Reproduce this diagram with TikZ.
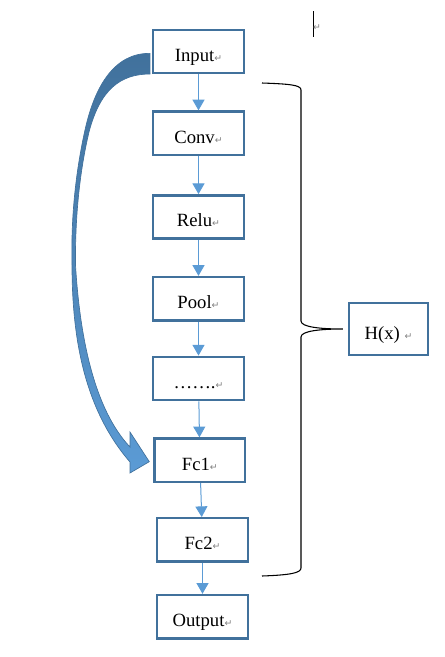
\documentclass[tikz,border=0pt]{standalone}
\usepackage{fontspec}
\setmainfont{Liberation Serif}
\newfontfamily\symfont{DejaVu Sans}
\usetikzlibrary{arrows.meta, calc, positioning}
\definecolor{boxblue}{HTML}{41719C}
\definecolor{lineblue}{HTML}{5B9BD5}
\newcommand\enter{{\symfont\fontsize{7}{7}\selectfont\color{gray}↵}}

\begin{document}
\begin{tikzpicture}[x=0.75pt, y=-0.75pt,
every node/.style = {font=\fontsize{14}{16}\selectfont},
box/.style = {draw=boxblue, line width=1.8pt,
              minimum width=68pt, minimum height=32.5pt, inner sep=0pt,
              text height=15pt, text depth=0pt},
flow/.style = {color=lineblue, line width=0.75pt,
               -{Triangle[width=9pt,length=8pt]}},
                    ]
%---
\useasboundingbox (0,0) rectangle (445,657);

\node[box] (in) at (198.5,51.5) {Input\enter};
\node[box] (conv) [below=27pt of in] {Conv\enter};
\node[box] (relu) [below=28.5pt of conv] {Relu\enter};
\node[box] (pool) [below=27pt of relu] {Pool\enter};
\node[box] (dots) [below=25.5pt of pool] {…….\enter};
\node[box] (fc1) [below=27pt of dots, xshift=1pt] {Fc1\enter};
\node[box] (fc2) [below=25.5pt of fc1, xshift=2pt] {Fc2\enter};
\node[box] (out) [below=23.25pt of fc2] {Output\enter};

\node[box, minimum width=59pt, minimum height=39pt] (hx) at (388.5,329) {H(x) \enter};

\path[flow]
        (in) edge (conv)
        (conv) edge (relu)
        (relu) edge (pool)
        (pool) edge (dots)
        (dots) edge (fc1)
        (fc1) edge (fc2)
        (fc2) edge (out);

% brace
\coordinate (hx_tip) at ($(hx.west)+(-5,0)$);
\draw[line width=0.8pt]
        (262,83) .. controls (290,84) and (301,85) .. (301,90) -- (301,321)
        .. controls (301,327) and (320,329) .. (hx_tip)
        .. controls (320,329) and (301,331) .. (301,337) -- (301,568)
        .. controls (301,573) and (290,575) .. (262,576);

% skip arrow
\coordinate (skip_a) at ($(in.south west)+(-2,-21)$);
\coordinate (skip_b) at ($(fc1.west)+(-4,1.5)$);
\path[draw=boxblue, line width=0.5pt, top color=boxblue, bottom color=lineblue]
        (skip_a) .. controls (115,53) and (95,85) .. (85,130)
        .. controls (75,175) and (71,220) .. (72,265)
        .. controls (72,340) and (85,410) .. (130,462)
        -- (130,473) -- (skip_b) -- (130,432) -- (130,447)
        .. controls (95,410) and (80,340) .. (75.5,265)
        .. controls (75,215) and (80,170) .. (89,132)
        .. controls (100,90) and (120,74) .. (150,74) -- cycle;

% cursor
\draw[line width=0.6pt] (313,11) -- (313,37);
\node[inner sep=0pt] (mark) at (317,28) {\enter};

\end{tikzpicture}
\end{document}
